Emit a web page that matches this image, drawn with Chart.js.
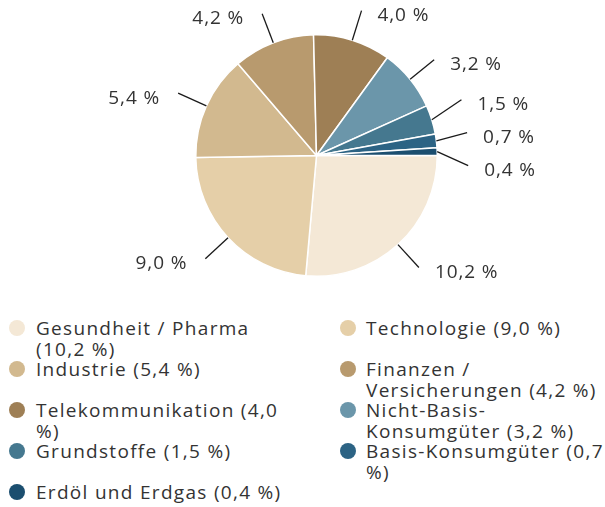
<!DOCTYPE html>
<html lang="de">
<head>
<meta charset="utf-8">
<title>Sektorallokation</title>
<script src="https://cdn.jsdelivr.net/npm/chart.js@4.4.1/dist/chart.umd.min.js"></script>
<style>
  html, body { margin: 0; padding: 0; background: #fff; }
  body { width: 605px; height: 507px; position: relative; overflow: hidden; font-family: "Open Sans", sans-serif; color: #333; }
  .chart-box { position: absolute; left: 0; top: 0; width: 605px; height: 300px; }
  .legend { position: absolute; left: 0; top: 318px; width: 605px; display: grid; grid-template-columns: 331px 274px; grid-auto-rows: 41px; }
  .legend-item { position: relative; padding-left: 36px; font-size: 19px; letter-spacing: 1.3px; line-height: 20.5px; }
  .legend-item .dot { position: absolute; left: 9px; top: 2px; width: 16px; height: 16px; border-radius: 50%; }
  .legend-item.right { padding-left: 35px; }
  .legend-item.left .text { display: block; width: 250px; }
  .legend-item.right .text { display: block; width: 244px; }
</style>
</head>
<body>
<div class="chart-box"><canvas id="pie"></canvas></div>
<div class="legend" id="legend"></div>

<script>
const sectors = [
  "Gesundheit / Pharma",
  "Technologie",
  "Industrie",
  "Finanzen / Versicherungen",
  "Telekommunikation",
  "Nicht-Basis-Konsumgüter",
  "Grundstoffe",
  "Basis-Konsumgüter",
  "Erdöl und Erdgas"
];
const shares = [10.2, 9.0, 5.4, 4.2, 4.0, 3.2, 1.5, 0.7, 0.4];
const sectorColors = [
  "#f4e8d6", "#e5cfa8", "#d2b98f", "#b89a6e", "#9e7f55",
  "#6b96aa", "#45788f", "#2c6384", "#1b4e6f"
];

const fmt = (v) => v.toFixed(1).replace(".", ",") + " %";

// leader lines + labels outside the pie, spread apart when they crowd
const outsideLabels = {
  id: "outsideLabels",
  afterDatasetsDraw(chart) {
    const ctx = chart.ctx;
    const arcs = chart.getDatasetMeta(0).data;
    const values = chart.data.datasets[0].data;
    const items = arcs.map((arc, i) => {
      const p = arc.getProps(["x", "y", "startAngle", "endAngle", "outerRadius"], true);
      const mid = (p.startAngle + p.endAngle) / 2;
      const r = p.outerRadius;
      return {
        text: fmt(values[i]),
        right: Math.cos(mid) >= 0,
        sx: p.x + Math.cos(mid) * r,
        sy: p.y + Math.sin(mid) * r,
        ex: p.x + Math.cos(mid) * (r + 31),
        ey: p.y + Math.sin(mid) * (r + 31)
      };
    });

    const gap = 33;
    [true, false].forEach((side) => {
      const group = items.filter((it) => it.right === side).sort((a, b) => a.ey - b.ey);
      for (let k = 0; k < 50; k++) {
        let moved = false;
        for (let j = 1; j < group.length; j++) {
          const d = group[j].ey - group[j - 1].ey;
          if (d < gap) {
            const push = (gap - d) / 2;
            group[j - 1].ey -= push;
            group[j].ey += push;
            moved = true;
          }
        }
        if (!moved) break;
      }
    });

    ctx.save();
    ctx.strokeStyle = "#1a1a1a";
    ctx.lineWidth = 1.3;
    ctx.fillStyle = "#333";
    ctx.font = '19px "Open Sans", sans-serif';
    ctx.letterSpacing = "0.9px";
    ctx.textBaseline = "middle";
    items.forEach((it) => {
      ctx.beginPath();
      ctx.moveTo(it.sx, it.sy);
      ctx.lineTo(it.ex, it.ey);
      ctx.stroke();
      ctx.textAlign = it.right ? "left" : "right";
      ctx.fillText(it.text, it.right ? it.ex + 16 : it.ex - 18, it.ey + 5);
    });
    ctx.restore();
  }
};

new Chart(document.getElementById("pie").getContext("2d"), {
  type: "pie",
  data: {
    labels: sectors,
    datasets: [
      {
        data: shares,
        backgroundColor: sectorColors,
        borderColor: "#ffffff",
        borderWidth: 1.5
      }
    ]
  },
  options: {
    responsive: true,
    maintainAspectRatio: false,
    animation: false,
    rotation: 90,
    layout: { padding: { left: 195, right: 167, top: 34, bottom: 23 } },
    plugins: {
      legend: { display: false },
      tooltip: { enabled: false }
    }
  },
  plugins: [outsideLabels]
});

// HTML legend in two columns
const legendEl = document.getElementById("legend");
sectors.forEach((name, i) => {
  const item = document.createElement("div");
  item.className = "legend-item " + (i % 2 === 0 ? "left" : "right");
  const dot = document.createElement("span");
  dot.className = "dot";
  dot.style.background = sectorColors[i];
  const text = document.createElement("span");
  text.className = "text";
  text.textContent = name + " (" + fmt(shares[i]) + ")";
  item.appendChild(dot);
  item.appendChild(text);
  legendEl.appendChild(item);
});
</script>
</body>
</html>
